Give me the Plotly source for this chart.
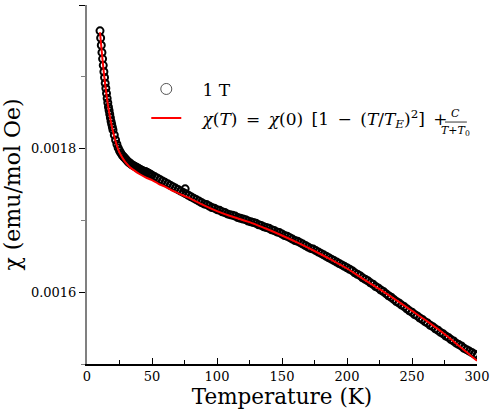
import plotly.graph_objects as go

# susceptibility at 1 T (emu/mol Oe)
temp_low = [10.0, 10.5, 11.0, 11.5, 12.0, 12.5, 13.0, 13.5, 14.0, 14.5,
            15.0, 15.5, 16.0, 16.5, 17.0, 17.5, 18.0, 18.5, 19.0, 19.5]
chi_low = [0.001964, 0.001954, 0.001944, 0.001934, 0.001925, 0.001916, 0.001907, 0.001899, 0.001891, 0.001884,
           0.001877, 0.001870, 0.001864, 0.001858, 0.001853, 0.001848, 0.001843, 0.001838, 0.001834, 0.001830]

temp_mid = [20, 21, 22, 23, 24, 25, 26, 27, 28, 29,
            30, 31, 32, 33, 34, 35, 36, 37, 38, 39,
            40, 41, 42, 43, 44, 45, 46, 47, 48, 49]
chi_mid = [0.001826, 0.001819, 0.001812, 0.001806, 0.001801, 0.001797, 0.001794, 0.001791, 0.001789, 0.001787,
           0.001785, 0.001783, 0.001781, 0.001780, 0.001778, 0.001777, 0.001776, 0.001775, 0.001774, 0.001773,
           0.001772, 0.001771, 0.001770, 0.001769, 0.001768, 0.001768, 0.001767, 0.001766, 0.001765, 0.001764]

temp_high = [50, 52, 54, 56, 58, 60, 62, 64, 66, 68,
             70, 72, 74, 76, 78, 80, 82, 84, 86, 88,
             90, 92, 94, 96, 98, 100, 102, 104, 106, 108,
             110, 112, 114, 116, 118, 120, 122, 124, 126, 128,
             130, 132, 134, 136, 138, 140, 142, 144, 146, 148,
             150, 152, 154, 156, 158, 160, 162, 164, 166, 168,
             170, 172, 174, 176, 178, 180, 182, 184, 186, 188,
             190, 192, 194, 196, 198, 200, 202, 204, 206, 208,
             210, 212, 214, 216, 218, 220, 222, 224, 226, 228,
             230, 232, 234, 236, 238, 240, 242, 244, 246, 248,
             250, 252, 254, 256, 258, 260, 262, 264, 266, 268,
             270, 272, 274, 276, 278, 280, 282, 284, 286, 288,
             290, 292, 294, 296, 298, 300]
chi_high = [0.001763, 0.001761, 0.001759, 0.001757, 0.001755, 0.001753, 0.001751, 0.001749, 0.001747, 0.001745,
            0.001743, 0.001741, 0.001739, 0.001737, 0.001735, 0.001733, 0.001731, 0.001729, 0.001727, 0.001725,
            0.001723, 0.001722, 0.001720, 0.001718, 0.001717, 0.001715, 0.001714, 0.001712, 0.001711, 0.001709,
            0.001708, 0.001707, 0.001706, 0.001704, 0.001703, 0.001702, 0.001701, 0.001699, 0.001698, 0.001697,
            0.001696, 0.001694, 0.001693, 0.001691, 0.001690, 0.001689, 0.001687, 0.001686, 0.001684, 0.001683,
            0.001681, 0.001679, 0.001678, 0.001676, 0.001674, 0.001672, 0.001671, 0.001669, 0.001667, 0.001665,
            0.001663, 0.001661, 0.001660, 0.001658, 0.001656, 0.001654, 0.001652, 0.001650, 0.001648, 0.001646,
            0.001644, 0.001642, 0.001640, 0.001638, 0.001636, 0.001634, 0.001632, 0.001630, 0.001627, 0.001625,
            0.001623, 0.001620, 0.001618, 0.001616, 0.001613, 0.001611, 0.001608, 0.001606, 0.001603, 0.001601,
            0.001598, 0.001595, 0.001593, 0.001590, 0.001587, 0.001585, 0.001582, 0.001580, 0.001577, 0.001574,
            0.001572, 0.001569, 0.001567, 0.001564, 0.001562, 0.001559, 0.001557, 0.001554, 0.001552, 0.001549,
            0.001547, 0.001544, 0.001542, 0.001539, 0.001537, 0.001534, 0.001532, 0.001529, 0.001527, 0.001525,
            0.001522, 0.001520, 0.001518, 0.001516, 0.001514, 0.001512]

# stray point above the band
temp_stray = [75.5]
chi_stray = [0.001744]

# fitted curve
fit_temp = [10, 11, 12, 13, 14, 15, 16, 17, 18, 19, 20, 22, 24, 26, 28, 30, 33, 36, 40, 45,
            50, 55, 60, 65, 70, 75, 80, 90, 100, 112, 125, 137, 150, 162, 175, 187, 200, 212,
            225, 237, 250, 262, 275, 287, 300]
fit_chi = [0.001962, 0.001942, 0.001923, 0.001905, 0.001889, 0.001875, 0.001862, 0.001851, 0.001841, 0.001832,
           0.001824, 0.001810, 0.001799, 0.001791, 0.001785, 0.001780, 0.001774, 0.001770, 0.001765, 0.001760,
           0.001756, 0.001751, 0.001747, 0.001742, 0.001738, 0.001734, 0.001730, 0.001721, 0.001713, 0.001705,
           0.0016976, 0.001689, 0.001679, 0.001669, 0.0016574, 0.001646, 0.001633, 0.001619, 0.0016042, 0.001590,
           0.001574, 0.001559, 0.0015417, 0.001524, 0.0015046]

x_ticks = [0, 50, 100, 150, 200, 250, 300]
y_ticks = [0.0016, 0.0018, 0.0020]

# DejaVu Serif is the serif face that reliably resolves in the sandbox browser
SERIF = "DejaVu Serif"
SP = '\u2002'

temps = temp_low + temp_mid + temp_high + temp_stray
chis = chi_low + chi_mid + chi_high + chi_stray

fig = go.Figure()

fig.add_trace(go.Scatter(x=temps, y=chis, mode='markers', showlegend=False,
                         marker=dict(symbol='circle-open', size=7, color='black',
                                     line=dict(color='black', width=2))))
# legend entry only
fig.add_trace(go.Scatter(x=[None], y=[None], mode='markers', name='\u00a0\u00a0\u00a01 T',
                         legendgroup='a',
                         marker=dict(symbol='circle-open', size=11, color='#555555',
                                     line=dict(color='#555555', width=1))))
fig.add_trace(go.Scatter(x=fit_temp, y=fit_chi, mode='lines', line_shape='spline',
                         legendgroup='b',
                         name=('\u00a0\u00a0\u00a0<i>χ</i>(<i>T</i>)' + SP + '=' + SP + '<i>χ</i>(0)' + SP
                               + '[1' + SP + '−' + SP + '(<i>T</i>/<i>T</i><sub><i>E</i></sub>)<sup>2</sup>]'
                               + SP + '+'),
                         line=dict(color='red', width=2)))

minor_x = dict(dtick=25, ticks='inside', ticklen=4, tickcolor='black', tickwidth=1)

fig.update_layout(
    template='none',
    width=490, height=415, autosize=False,
    margin=dict(l=87, r=13, t=5, b=51),
    paper_bgcolor='white', plot_bgcolor='white',
    font=dict(family=SERIF, color='black', size=13),
    showlegend=True,
    legend=dict(x=0.152, y=0.815, xanchor='left', yanchor='top', bgcolor='rgba(0,0,0,0)',
                font=dict(family=SERIF, size=17, color='black'), tracegroupgap=4,
                itemwidth=30),
    xaxis=dict(range=[0, 300], tickvals=x_ticks, ticks='inside', ticklen=6, tickwidth=1,
               tickcolor='black', showline=True, linecolor='black', linewidth=1.5,
               showgrid=False, zeroline=False, minor=minor_x, automargin=False,
               tickfont=dict(family=SERIF, size=13),
               title=dict(text='Temperature (K)', font=dict(family=SERIF, size=21.5), standoff=6)),
    xaxis2=dict(overlaying='x', side='top', matches='x', range=[0, 300], tickvals=x_ticks,
                ticks='inside', ticklen=6, tickwidth=1, tickcolor='black', showticklabels=False,
                showline=True, linecolor='#777777', linewidth=1.5, showgrid=False, zeroline=False,
                minor=minor_x, automargin=False),
    yaxis=dict(range=[0.0015, 0.0020], tickvals=y_ticks, tickformat='.4f', ticks='outside',
               ticklen=6, tickwidth=1, tickcolor='black', showline=True, linecolor='#808080',
               linewidth=2, showgrid=False, zeroline=False, automargin=False,
               minor=dict(dtick=0.0001, tick0=0.0015, ticks='outside', ticklen=4, tickcolor='#808080'),
               tickfont=dict(family=SERIF, size=13),
               title=dict(text='χ (emu/mol Oe)', font=dict(family=SERIF, size=22), standoff=8)),
    yaxis2=dict(overlaying='y', side='right', matches='y', range=[0.0015, 0.0020], tickvals=y_ticks,
                ticks='inside', ticklen=6, tickwidth=1, tickcolor='black', showticklabels=False,
                showline=True, linecolor='black', linewidth=1.5, showgrid=False, zeroline=False,
                automargin=False,
                minor=dict(dtick=0.0001, tick0=0.0015, ticks='inside', ticklen=4, tickcolor='black')),
)

# stacked fraction C / (T + T0) at the end of the fit legend entry
fig.add_annotation(x=0.946, y=0.677, xref='paper', yref='paper', showarrow=False,
                   xanchor='center', yanchor='bottom', borderpad=0,
                   text='<i>C</i>', font=dict(family=SERIF, size=11))
fig.add_annotation(x=0.946, y=0.671, xref='paper', yref='paper', showarrow=False,
                   xanchor='center', yanchor='top', borderpad=0,
                   text='<i>T</i>+<i>T</i><sub>0</sub>', font=dict(family=SERIF, size=11))
fig.add_shape(type='line', xref='paper', yref='paper', x0=0.918, x1=0.974, y0=0.674, y1=0.674,
              line=dict(color='black', width=0.8))

# the page's default body margin would shift the figure
fig.write_html("out.html", config={'displayModeBar': False},
               post_script="document.body.style.margin='0';")
